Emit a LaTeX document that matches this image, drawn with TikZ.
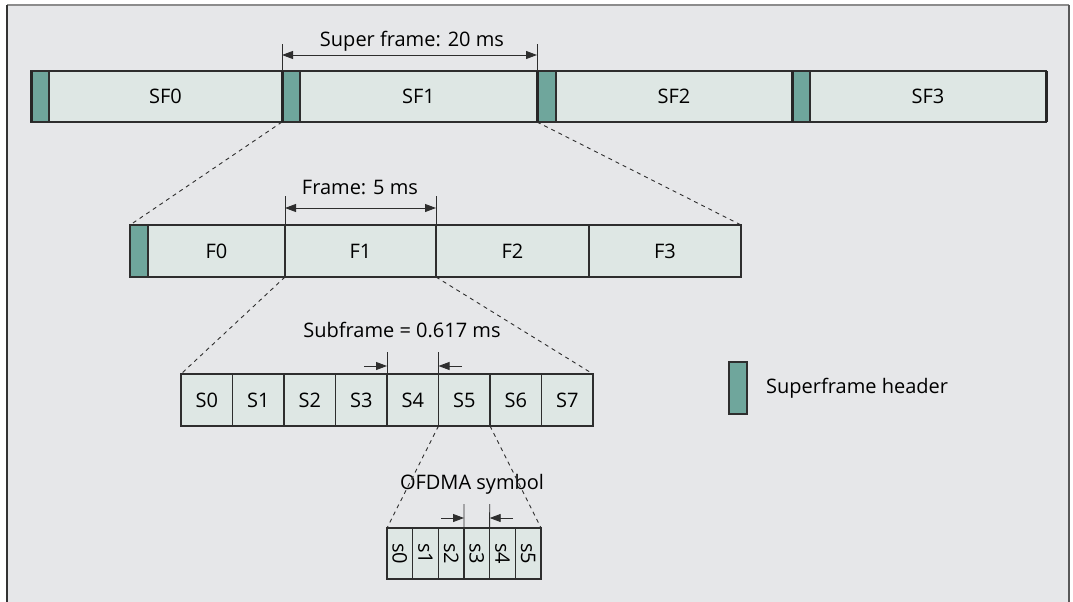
\documentclass[tikz,border=0pt]{standalone}
\usepackage{fontspec}
\usepackage{graphicx}
\setmainfont{Open Sans}
\usetikzlibrary{arrows.meta,calc}
\definecolor{bgc}{HTML}{E6E7E9}
\definecolor{cellc}{HTML}{DEE7E4}
\definecolor{hdrc}{HTML}{6FA69C}
\definecolor{linec}{HTML}{2E2E2E}
\newcommand\lblfont{\fontsize{20}{24}\selectfont}
\tikzset{
  cell/.style={draw=linec, fill=cellc, line width=1.1pt, anchor=north west, inner sep=0pt, outer sep=0pt, font=\lblfont},
  hdr/.style={draw=linec, fill=hdrc, line width=1.1pt, anchor=north west, inner sep=0pt, outer sep=0pt},
  thickline/.style={line width=3pt, draw=black!85},
  dim/.style={line width=0.9pt, draw=linec},
  arr/.style={dim, -{Triangle[length=11pt,width=8pt]}},
  darr/.style={dim, {Triangle[length=11pt,width=8pt]}-{Triangle[length=11pt,width=8pt]}},
  dashline/.style={dash pattern=on 4pt off 4pt, line width=0.9pt, draw=linec},
  txt/.style={font=\lblfont, inner sep=0pt},
}
\begin{document}
\begin{tikzpicture}[x=1pt,y=-1pt]
\useasboundingbox (0,0) rectangle (1073,602);
% background panel
\fill[bgc] (7,5) rectangle (1069,602);
\draw[line width=1.5pt, draw=black!45] (7,5) -- (1069,5);
\draw[line width=1.5pt, draw=black!80] (7,5) -- (7,602);
\draw[line width=1.5pt, draw=black!65] (1069,5) -- (1069,602);

% ---- superframe bar ----
\node[hdr, minimum width=18pt, minimum height=51pt] (h0) at (31,71) {};
\node[cell, minimum width=233pt, minimum height=51pt] (sf0) at (49,71) {SF0};
\node[hdr, minimum width=18pt, minimum height=51pt] (h1) at (282,71) {};
\node[cell, minimum width=237pt, minimum height=51pt] (sf1) at (300,71) {SF1};
\node[hdr, minimum width=19pt, minimum height=51pt] (h2) at (537,71) {};
\node[cell, minimum width=236pt, minimum height=51pt] (sf2) at (556,71) {SF2};
\node[hdr, minimum width=18pt, minimum height=51pt] (h3) at (792,71) {};
\node[cell, minimum width=236pt, minimum height=51pt] (sf3) at (810,71) {SF3};
\foreach \n in {h0,h1,h2,h3} \draw[thickline] (\n.north west) -- (\n.south west);
\draw[thickline] (sf3.north east) -- (sf3.south east);

% super frame dimension
\coordinate (st1) at (282,44);
\coordinate (st2) at (537,44);
\draw[dim] (h1.north west) -- (st1);
\draw[dim] (h2.north west) -- (st2);
\coordinate (sa1) at (282,55);
\coordinate (sa2) at (537,55);
\draw[darr] (sa1) -- (sa2);
\node[txt] (sflbl) at (412,41) {Super frame: 20 ms};

% ---- frame bar ----
\node[hdr, minimum width=18pt, minimum height=52pt] (fh) at (130,225) {};
\node[cell, minimum width=137pt, minimum height=52pt] (f0) at (148,225) {F0};
\node[cell, minimum width=151pt, minimum height=52pt] (f1) at (285,225) {F1};
\node[cell, minimum width=153pt, minimum height=52pt] (f2) at (436,225) {F2};
\node[cell, minimum width=152pt, minimum height=52pt] (f3) at (589,225) {F3};

\draw[dashline] (h1.south west) -- (fh.north west);
\draw[dashline] (h2.south west) -- (f3.north east);

\coordinate (ft1) at (285,196);
\coordinate (ft2) at (436,196);
\draw[dim] (f1.north west) -- (ft1);
\draw[dim] (f2.north west) -- (ft2);
\coordinate (fa1) at (285,208);
\coordinate (fa2) at (436,208);
\draw[darr] (fa1) -- (fa2);
\node[txt] (flbl) at (360,188) {Frame: 5 ms};

% ---- subframe bar ----
\foreach \i in {0,...,7}
  \node[cell, minimum width=51.5pt, minimum height=52pt] (s\i) at ({181+51.5*\i},374) {S\i};

\draw[dashline] (f1.south west) -- (s0.north west);
\draw[dashline] (f2.south west) -- (s7.north east);

\coordinate (sbt1) at (387,352);
\coordinate (sbt2) at (438.5,352);
\draw[dim] (s4.north west) -- (sbt1);
\draw[dim] (s5.north west) -- (sbt2);
\coordinate (sbl) at (364,366);
\coordinate (sbli) at (387,366);
\coordinate (sbr) at (462,366);
\coordinate (sbri) at (438.5,366);
\draw[arr] (sbl) -- (sbli);
\draw[arr] (sbr) -- (sbri);
\node[txt] (sblbl) at (402,330) {Subframe = 0.617 ms};

% ---- OFDMA symbols ----
\foreach \i in {0,...,5}
  \node[cell, minimum width=25.67pt, minimum height=51pt] (o\i) at ({387+25.67*\i},528) {\rotatebox{-90}{s\i}};

\node[txt] (olbl) at (472,484) {OFDMA symbol};
\draw[dashline] (s5.south west) -- (o0.north west);
\draw[dashline] (s6.south west) -- (o5.north east);

\coordinate (ot1) at (464,504);
\coordinate (ot2) at (489.7,504);
\draw[dim] (o3.north west) -- (ot1);
\draw[dim] (o4.north west) -- (ot2);
\coordinate (oal) at (441,518);
\coordinate (oali) at (464,518);
\coordinate (oar) at (513,518);
\coordinate (oari) at (489.7,518);
\draw[arr] (oal) -- (oali);
\draw[arr] (oar) -- (oari);

% ---- legend ----
\node[hdr, minimum width=18pt, minimum height=52pt] (lg) at (729,362) {};
\node[txt, anchor=west] (lgtxt) at (766,388) {Superframe header};
\end{tikzpicture}
\end{document}
